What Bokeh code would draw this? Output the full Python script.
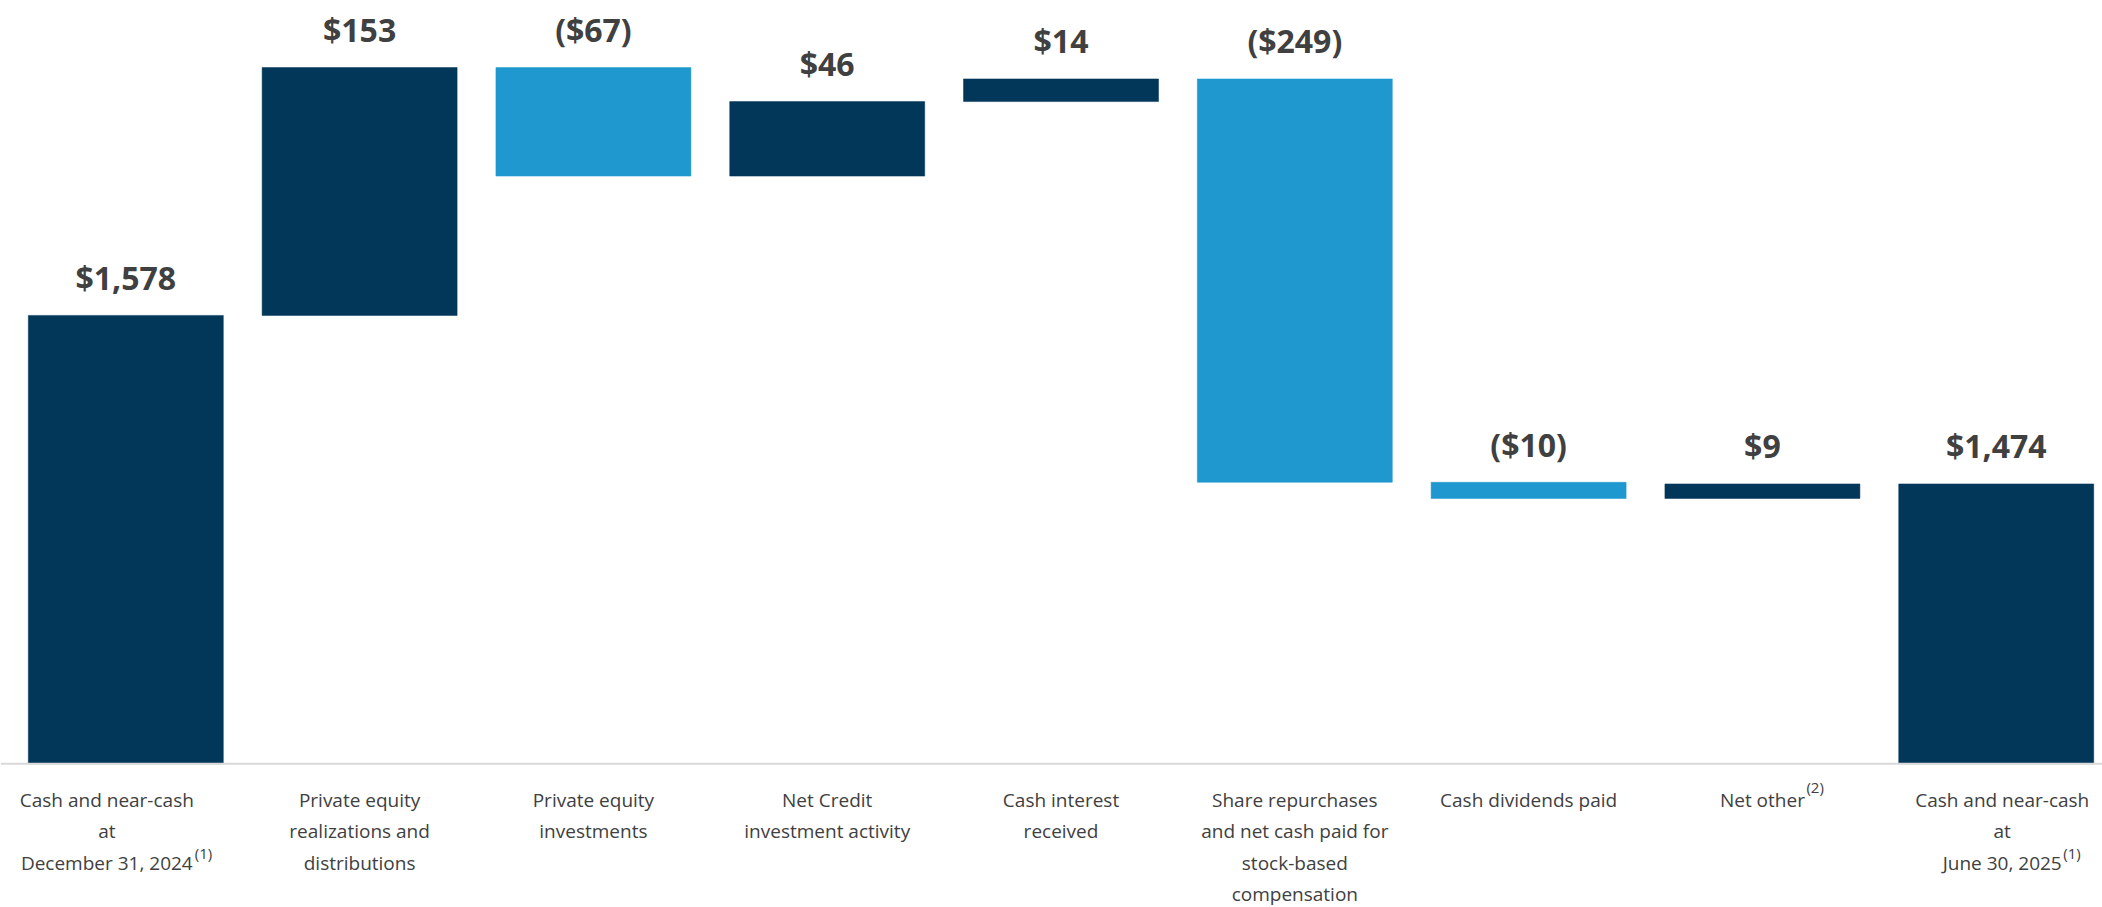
from bokeh.plotting import figure
from bokeh.models import Range1d, Span, ColumnDataSource
from bokeh.core.properties import value
from bokeh.embed import file_html
from bokeh.resources import INLINE

# ---- data ----
categories = [
    "Cash and near-cash\nat\nDecember 31, 2024",
    "Private equity\nrealizations and\ndistributions",
    "Private equity\ninvestments",
    "Net Credit\ninvestment activity",
    "Cash interest\nreceived",
    "Share repurchases\nand net cash paid for\nstock-based\ncompensation",
    "Cash dividends paid",
    "Net other",
    "Cash and near-cash\nat\nJune 30, 2025",
]
footnotes = ["(1)", "", "", "", "", "", "", "(2)", "(1)"]
amounts = [1578, 153, -67, 46, 14, -249, -10, 9, 1474]
is_total = [True, False, False, False, False, False, False, False, True]
value_labels = ["$1,578", "$153", "($67)", "$46", "$14", "($249)", "($10)", "$9", "$1,474"]
axis_floor = 1301.3  # value at which the (broken) axis starts

# ---- style ----
DARK = "#02375A"
LIGHT = "#1E98CE"
TEXT = "#404040"
FONT = "Open Sans"

W, H = 2102, 907
PX_PER_CAT = 233.8
PX_PER_UNIT = 1.62
x_start = -0.536
y_top = 1772.4

# ---- waterfall geometry from the values ----
bottoms, tops, colors = [], [], []
running = 0
for amt, tot in zip(amounts, is_total):
    if tot:
        b, t = axis_floor, amt
        running = amt
    else:
        b, t = running, running + amt
        running += amt
    bottoms.append(b)
    tops.append(t)
    colors.append(LIGHT if (not tot and amt < 0) else DARK)

xs = list(range(len(categories)))
src = ColumnDataSource(dict(
    x=xs, bottom=bottoms, top=tops, color=colors,
    label_y=[max(b, t) for b, t in zip(bottoms, tops)],
    vlabel=value_labels, cat=categories,
))

p = figure(width=W, height=H, output_backend="svg", toolbar_location=None,
           x_range=Range1d(x_start, x_start + W / PX_PER_CAT),
           y_range=Range1d(y_top - H / PX_PER_UNIT, y_top),
           min_border=0, background_fill_color="white", border_fill_color="white")
p.axis.visible = False
p.grid.visible = False
p.outline_line_color = None

p.add_layout(Span(location=axis_floor, dimension="width", line_color="#D9D9D9", line_width=2))

p.vbar(x="x", bottom="bottom", top="top", width=0.834, fill_color="color",
       line_color="color", line_width=0.5, source=src)

p.text(x="x", y="label_y", text="vlabel", source=src, text_align="center",
       text_baseline="middle", y_offset=-38, text_font=value(FONT),
       text_font_style="bold", text_font_size="32px", text_color=TEXT)

# category labels (first and last slightly shifted as in the original)
shift = {0: -19, 8: 6}
for i, cat in enumerate(categories):
    p.text(x=[i], y=[axis_floor], text=[cat], x_offset=shift.get(i, 0), y_offset=23,
           text_align="center", text_baseline="top", text_font=value(FONT),
           text_font_size="19px", text_line_height=1.21, text_color=TEXT)

# footnote superscripts
sup_pos = {0: (-19 + 88, 89), 7: (44, 23), 8: (6 + 61, 89)}
for i, fn in enumerate(footnotes):
    if fn:
        dx, dy = sup_pos[i]
        p.text(x=[i], y=[axis_floor], text=[fn], x_offset=dx, y_offset=dy,
               text_align="left", text_baseline="middle", text_font=value(FONT),
               text_font_size="15px", text_color=TEXT)

open("out.html", "w").write(file_html(p, INLINE))
